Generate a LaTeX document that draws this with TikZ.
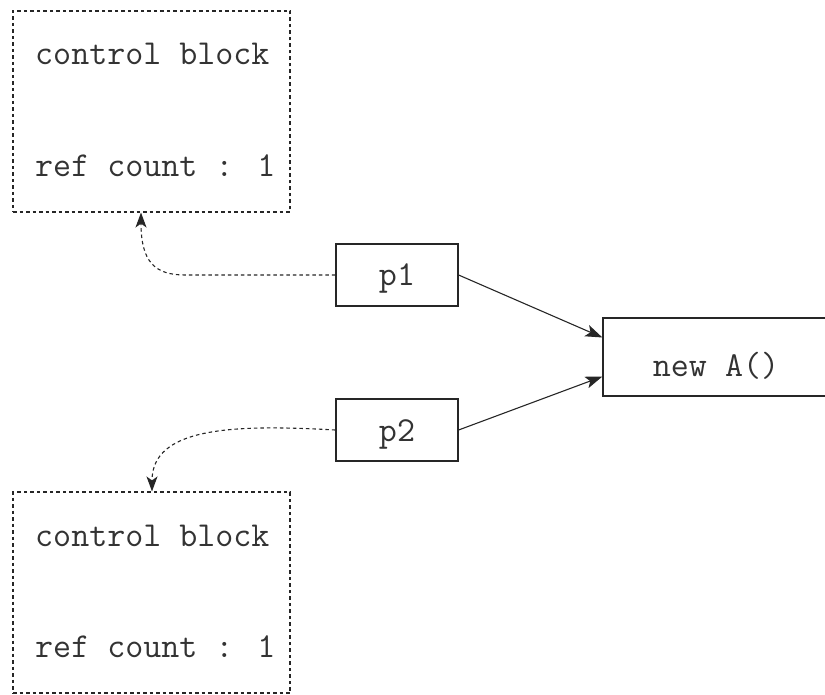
\documentclass[tikz,border=0pt]{standalone}
\usepackage{fontspec}
\usetikzlibrary{arrows.meta}
\begin{document}
\begin{tikzpicture}[x=1pt,y=-1pt,
  cbbox/.style={draw=black!85,line width=1.1pt,dash pattern=on 3.5pt off 3pt},
  ptrbox/.style={draw=black!85,line width=1.2pt,fill=white},
  lbl/.style={font=\ttfamily\fontsize{35}{40}\selectfont,text=black!80,inner sep=0pt},
  solidarr/.style={draw=black!85,line width=1.1pt,-{Stealth[length=17pt,width=12pt,inset=4pt]}},
  dasharr/.style={draw=black!85,line width=1.1pt,dash pattern=on 3.5pt off 3pt,-{Stealth[length=15pt,width=11pt,inset=4pt]}}
]
\useasboundingbox (0,0) rectangle (825,695);
\clip (0,0) rectangle (825,695);
% control blocks
\node[cbbox,minimum width=277pt,minimum height=201pt,inner sep=0pt] (cb1) at (151.5,111.5) {};
\node[cbbox,minimum width=277pt,minimum height=201pt,inner sep=0pt] (cb2) at (151.5,592.5) {};
\node[lbl,anchor=base west] (cb1a) at (35,65) {control block};
\node[lbl,anchor=base west] (cb1b) at (35,177) {ref count : 1};
\node[lbl,anchor=base west] (cb2a) at (35,546) {control block};
\node[lbl,anchor=base west] (cb2b) at (35,657) {ref count : 1};
% pointers
\node[ptrbox,minimum width=122pt,minimum height=62pt,inner sep=0pt] (p1) at (397,275) {};
\node[lbl,anchor=base] (p1t) at (397,286) {p1};
\node[ptrbox,minimum width=122pt,minimum height=62pt,inner sep=0pt] (p2) at (397,430) {};
\node[lbl,anchor=base] (p2t) at (397,441) {p2};
% object
\node[ptrbox,minimum width=226pt,minimum height=78pt,inner sep=0pt] (obj) at (716,357) {};
\node[lbl,anchor=base] (objt) at (716,376) {new A()};
\coordinate (o1) at ([yshift=19.5pt]obj.west);
\coordinate (o2) at ([yshift=-19.5pt]obj.west);
% arrows
\draw[solidarr] (p1.east) -- (o1);
\draw[solidarr] (p2.east) -- (o2);
\coordinate (c1) at (141,0);
\coordinate (c2) at (152,0);
\draw[dasharr] (p1.west) -- (185,275) .. controls (155,275) and (141,262) .. (c1 |- cb1.south);
\draw[dasharr] (p2.west) .. controls (230,424) and (152,428) .. (c2 |- cb2.north);
\end{tikzpicture}
\end{document}
